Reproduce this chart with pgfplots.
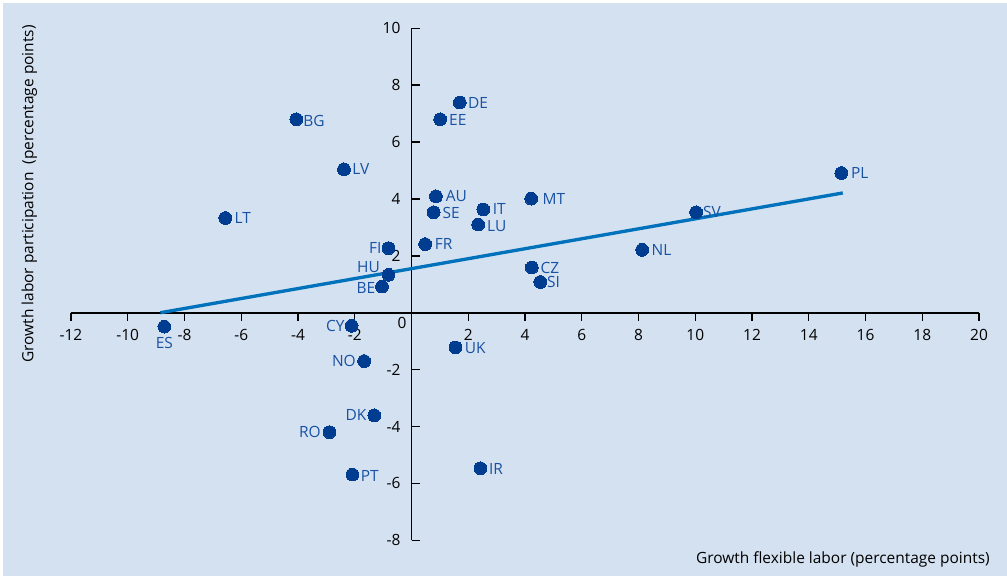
\documentclass[border=0pt]{standalone}
\usepackage{pgfplots}
\pgfplotsset{compat=1.18}
\usepackage{fontspec}
\setmainfont{Open Sans}
\definecolor{bgblue}{RGB}{212,225,241}
\definecolor{dotblue}{RGB}{0,61,145}
\definecolor{lblblue}{RGB}{24,82,163}
\definecolor{lineblue}{RGB}{0,114,188}
\newcommand{\chfont}{\fontsize{11.6}{13}\selectfont}

\begin{document}
\begin{tikzpicture}
\path[use as bounding box] (0,0) rectangle (755.25pt,432pt);
\fill[bgblue] (2.25pt,0) rectangle (755.25pt,429.75pt);
\begin{axis}[
  at={(53.25pt,26.8pt)}, anchor=south west,
  scale only axis, width=681pt, height=384pt,
  xmin=-12, xmax=20, ymin=-8, ymax=10,
  axis lines=middle,
  axis line style={line width=1.4pt, -, black},
  xtick={-12,-10,-8,-6,-4,-2,2,4,6,8,10,12,14,16,18,20},
  ytick={-8,-6,-4,-2,2,4,6,8,10},
  tick style={black, line width=1.1pt},
  major tick length=6.2pt,
  xtick style={yshift=-3.1pt},
  ytick style={xshift=3.1pt},
  /pgf/number format/assume math mode=true,
  tick label style={font=\chfont, text=black},
  xticklabel style={anchor=north, inner sep=0pt, yshift=-9pt},
  yticklabel style={anchor=east, inner sep=0pt, xshift=-5pt},
  clip=false,
]
\addplot[lineblue, line width=2.5pt] coordinates {(-8.85,0) (15.2,4.21)};
\addplot[dotblue, only marks, mark=*, mark size=4.8pt,
  mark options={fill=dotblue, draw=dotblue, line width=0pt},
  nodes near coords, point meta=explicit symbolic,
  visualization depends on={value \thisrow{dx} \as \mydx},
  visualization depends on={value \thisrow{dy} \as \mydy},
  visualization depends on={value \thisrow{anc} \as \myanc},
  every node near coord/.append style={anchor=\myanc, xshift=\mydx pt, yshift=\mydy pt, inner sep=0pt, text=lblblue, font=\chfont}]
  table[x=x, y=y, meta=lab]{
x y dx dy anc lab
-4.06 6.80 5.3 -1.5 west BG
1.70 7.39 6.3 0 west DE
1.01 6.80 6.8 -0.5 west EE
-2.38 5.04 6.3 0 west LV
0.86 4.09 7.5 0 west AU
0.78 3.53 6.8 -0.3 west SE
2.53 3.63 7.1 0 west IT
2.35 3.10 6.8 -0.8 west LU
-6.56 3.33 7.0 0 west LT
0.48 2.41 7.3 0 west FR
-0.81 2.27 -5.3 0 east FI
-0.81 1.33 -6.5 6.2 east HU
-1.04 0.92 -5.0 -1 east BE
15.15 4.91 7.3 0 west PL
4.22 4.01 8.6 0 west MT
10.03 3.53 5.3 0 west SV
8.13 2.21 7.1 0 west NL
4.24 1.59 6.6 -0.3 west CZ
4.54 1.08 5.1 0 west SI
-8.71 -0.49 0 -7.8 north ES
-2.11 -0.46 -5.3 0 east CY
1.55 -1.22 7.0 -0.8 west UK
-1.67 -1.70 -6.3 0 east NO
-1.31 -3.61 -6.0 0 east DK
-2.89 -4.20 -6.6 0 east RO
-2.08 -5.69 6.3 -0.8 west PT
2.43 -5.47 6.5 -0.8 west IR
};
\node[anchor=north east, inner sep=0pt, font=\chfont] at (axis cs:0,0) [xshift=-3.5pt, yshift=-3.4pt] {0};
\end{axis}
\node[anchor=base east, inner sep=0pt, font=\chfont] at (742.5pt,9.75pt) {Growth flexible labor (percentage points)};
\node[rotate=90, anchor=base east, inner sep=0pt, font=\chfont] at (25pt,413.25pt) {Growth labor participation\ \ (percentage points)};
\end{tikzpicture}
\end{document}
